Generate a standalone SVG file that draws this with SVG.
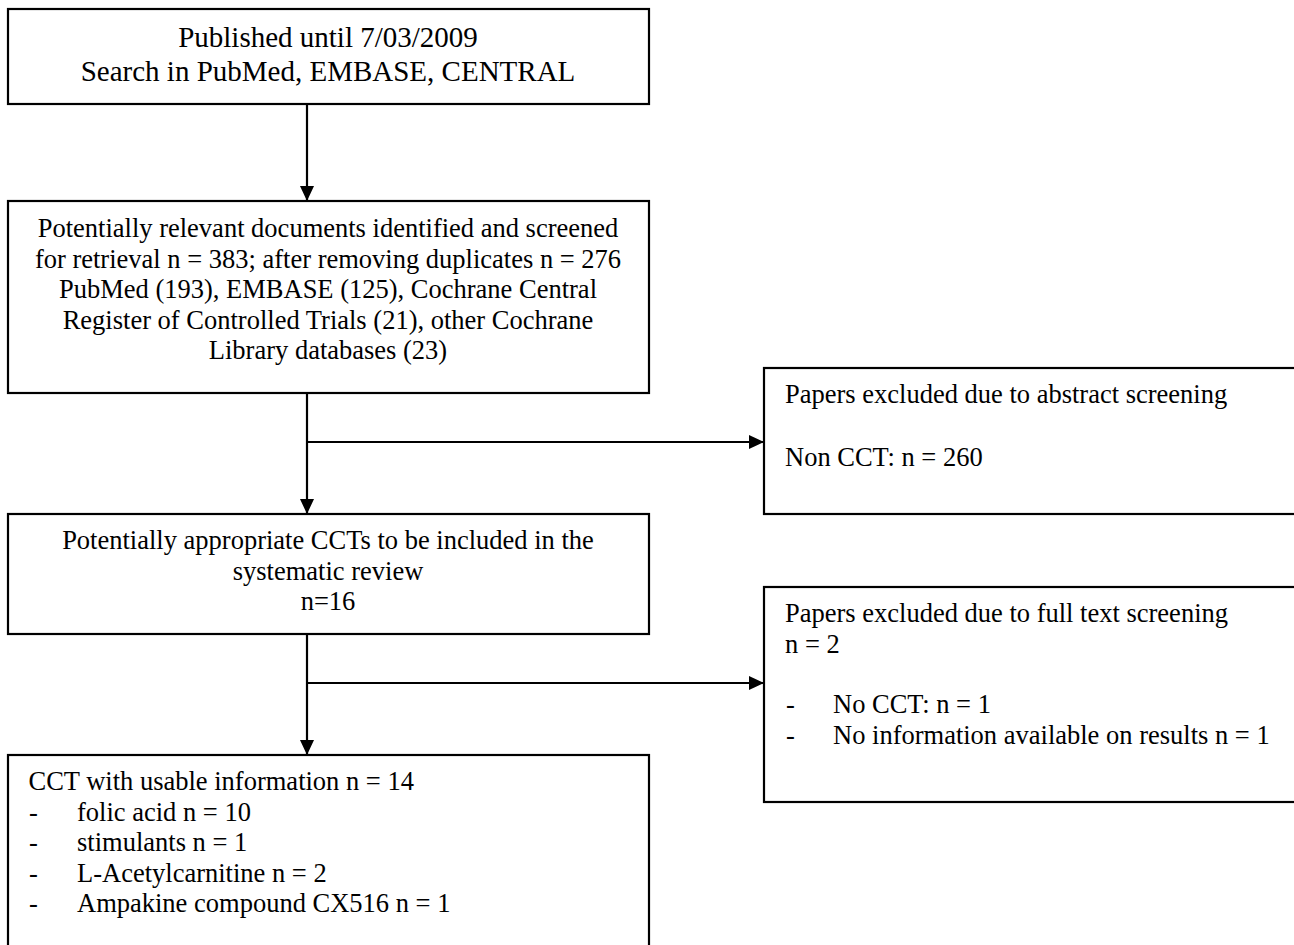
<svg xmlns="http://www.w3.org/2000/svg" width="1294" height="945" viewBox="0 0 1294 945">
<style>
.box{fill:#fff;stroke:#000;stroke-width:2.2}
.t{font-family:"Liberation Serif","Times New Roman",serif;font-size:26.5px;fill:#000}
.big{font-size:29px}
.c{text-anchor:middle}
.ln{fill:none;stroke:#000;stroke-width:2.2}
</style>
<defs>
<marker id="ah" markerUnits="userSpaceOnUse" markerWidth="16" markerHeight="16" refX="15" refY="7" orient="auto">
<path d="M0,0 L15,7 L0,14 Z" fill="#000"/>
</marker>
</defs>
<rect width="1294" height="945" fill="#fff"/>
<g id="connectors">
<line class="ln" x1="307" y1="104" x2="307" y2="201" marker-end="url(#ah)"/>
<line class="ln" x1="307" y1="393" x2="307" y2="514" marker-end="url(#ah)"/>
<line class="ln" x1="307" y1="442" x2="764" y2="442" marker-end="url(#ah)"/>
<line class="ln" x1="307" y1="634" x2="307" y2="755" marker-end="url(#ah)"/>
<line class="ln" x1="307" y1="683" x2="764" y2="683" marker-end="url(#ah)"/>
</g>
<g id="search">
<rect class="box" x="8" y="9" width="641" height="95"/>
<text class="t big c" x="328" y="47">Published until 7/03/2009</text>
<text class="t big c" x="328" y="81">Search in PubMed, EMBASE, CENTRAL</text>
</g>
<g id="identified">
<rect class="box" x="8" y="201" width="641" height="192"/>
<text class="t c" x="328" y="237">Potentially relevant documents identified and screened</text>
<text class="t c" x="328" y="267.5">for retrieval n = 383; after removing duplicates n = 276</text>
<text class="t c" x="328" y="298">PubMed (193), EMBASE (125), Cochrane Central</text>
<text class="t c" x="328" y="328.5">Register of Controlled Trials (21), other Cochrane</text>
<text class="t c" x="328" y="359">Library databases (23)</text>
</g>
<g id="excluded-abstract">
<rect class="box" x="764" y="368" width="540" height="146"/>
<text class="t" x="785" y="403">Papers excluded due to abstract screening</text>
<text class="t" x="785" y="466">Non CCT: n = 260</text>
</g>
<g id="appropriate">
<rect class="box" x="8" y="514" width="641" height="120"/>
<text class="t c" x="328" y="549">Potentially appropriate CCTs to be included in the</text>
<text class="t c" x="328" y="579.5">systematic review</text>
<text class="t c" x="328" y="610">n=16</text>
</g>
<g id="excluded-fulltext">
<rect class="box" x="764" y="587" width="540" height="215"/>
<text class="t" x="785" y="622">Papers excluded due to full text screening</text>
<text class="t" x="785" y="652.5">n = 2</text>
<text class="t" x="786" y="713">-</text>
<text class="t" x="833" y="713">No CCT: n = 1</text>
<text class="t" x="786" y="743.5">-</text>
<text class="t" x="833" y="743.5">No information available on results n = 1</text>
</g>
<g id="usable">
<rect class="box" x="8" y="755" width="641" height="200"/>
<text class="t" x="28.5" y="790">CCT with usable information n = 14</text>
<text class="t" x="29" y="820.5">-</text>
<text class="t" x="77" y="820.5">folic acid n = 10</text>
<text class="t" x="29" y="851">-</text>
<text class="t" x="77" y="851">stimulants n = 1</text>
<text class="t" x="29" y="881.5">-</text>
<text class="t" x="77" y="881.5">L-Acetylcarnitine n = 2</text>
<text class="t" x="29" y="912">-</text>
<text class="t" x="77" y="912">Ampakine compound CX516 n = 1</text>
</g>
</svg>
